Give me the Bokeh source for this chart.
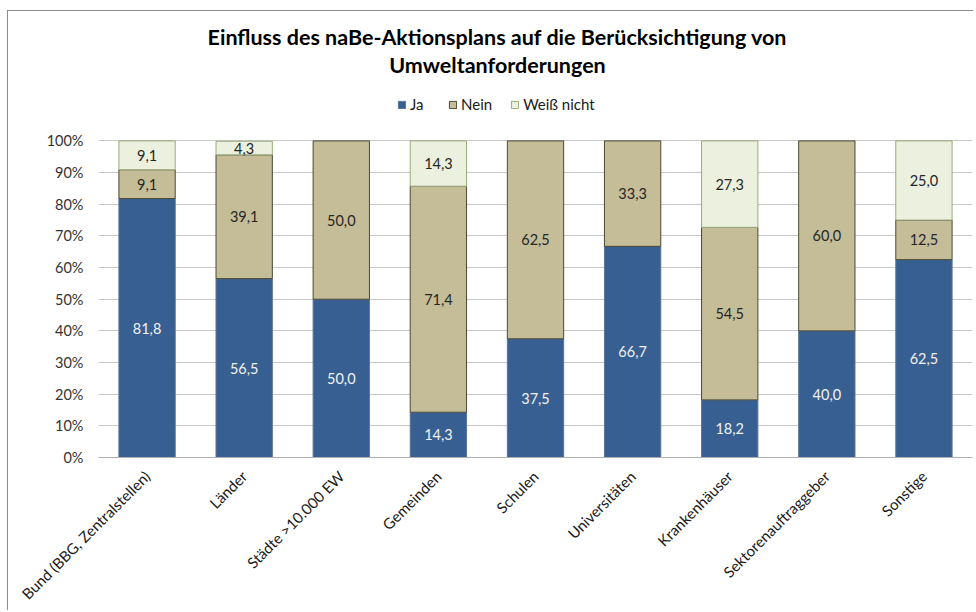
from math import pi
from bokeh.plotting import figure
from bokeh.models import (ColumnDataSource, Label, Legend, LegendItem, FixedTicker,
                          PrintfTickFormatter, Range1d)
from bokeh.core.properties import value
from bokeh.embed import file_html
from bokeh.resources import INLINE

# ---------------- data ----------------
categories = ["Bund (BBG, Zentralstellen)", "Länder", "Städte >10.000 EW", "Gemeinden",
              "Schulen", "Universitäten", "Krankenhäuser", "Sektorenauftraggeber", "Sonstige"]
ja = [81.8, 56.5, 50.0, 14.3, 37.5, 66.7, 18.2, 40.0, 62.5]
nein = [9.1, 39.1, 50.0, 71.4, 62.5, 33.3, 54.5, 60.0, 12.5]
weiss_nicht = [9.1, 4.3, 0.0, 14.3, 0.0, 0.0, 27.3, 0.0, 25.0]
series_names = ["Ja", "Nein", "Weiß nicht"]
y_ticks = [0, 10, 20, 30, 40, 50, 60, 70, 80, 90, 100]
title_lines = ["Einfluss des naBe-Aktionsplans auf die Berücksichtigung von",
               "Umweltanforderungen"]

# ---------------- layout / styles ----------------
FONT = "Lato"
fills = ["#375F91", "#C4BD97", "#EBF1DE"]
edges = ["#5C7597", "#4A4836", "#9AAA7C"]
label_colors = ["#F2F2F2", "#262626", "#262626"]

W, H = 966, 600
FRAME_LEFT, FRAME_RIGHT_PAD, FRAME_BOTTOM_PAD = 90, 2, 152
FRAME_H = H - FRAME_BOTTOM_PAD          # frame spans from canvas top to the axis
PLOT_H = 318                             # pixels between 0% and 100%
y_max = 100.0 * FRAME_H / PLOT_H         # headroom above 100% holds title + legend

p = figure(x_range=categories, y_range=Range1d(0, y_max), width=W, height=H,
           output_backend="svg", toolbar_location=None,
           min_border_left=FRAME_LEFT, min_border_right=FRAME_RIGHT_PAD,
           min_border_top=0, min_border_bottom=FRAME_BOTTOM_PAD)
p.styles = {"border-left": "1px solid #8C8C8C", "border-top": "1px solid #8C8C8C",
            "margin-left": "7px", "margin-top": "10px"}
p.outline_line_color = None
p.background_fill_color = "white"
p.border_fill_color = "white"

all_series = [ja, nein, weiss_nicht]
bottoms = [0.0] * len(categories)
legend_items = []
for name, vals, fc, lc, tc in zip(series_names, all_series, fills, edges, label_colors):
    xs, bot, top, mid, txt = [], [], [], [], []
    for c, b, v in zip(categories, bottoms, vals):
        if v > 0:
            xs.append(c)
            bot.append(b)
            top.append(b + v)
            mid.append(b + v / 2)
            txt.append(f"{v:.1f}".replace(".", ","))
    src = ColumnDataSource(dict(x=xs, bottom=bot, top=top, mid=mid, txt=txt))
    r = p.vbar(x="x", bottom="bottom", top="top", width=0.58, source=src,
               fill_color=fc, line_color=lc, line_width=1)
    p.text(x="x", y="mid", text="txt", source=src, text_align="center",
           text_baseline="middle", text_font=value(FONT), text_font_size="14.5px",
           text_color=tc)
    legend_items.append(LegendItem(label=name, renderers=[r]))
    bottoms = [b + v for b, v in zip(bottoms, vals)]

# grid & axes
p.xgrid.visible = False
p.ygrid.ticker = FixedTicker(ticks=y_ticks)
p.ygrid.grid_line_color = "#C8C8C8"
p.ygrid.grid_line_width = 1

p.yaxis.ticker = FixedTicker(ticks=y_ticks)
p.yaxis.formatter = PrintfTickFormatter(format="%d%%")
p.yaxis.axis_line_color = None
p.yaxis.major_tick_line_color = None
p.yaxis.minor_tick_line_color = None
p.yaxis.major_label_standoff = 9
p.yaxis.major_label_text_font = FONT
p.yaxis.major_label_text_font_size = "14.5px"
p.yaxis.major_label_text_color = "#333333"

p.xaxis.axis_line_color = "#B0B0B0"
p.xaxis.axis_line_width = 1
p.xaxis.major_tick_line_color = None
p.xaxis.minor_tick_line_color = None
p.xaxis.major_label_orientation = pi / 4
p.xaxis.major_label_standoff = 10
p.xaxis.major_label_text_font = FONT
p.xaxis.major_label_text_font_size = "15px"
p.xaxis.major_label_text_color = "#1A1A1A"

# title (two centred lines), in screen px relative to the frame
for i, line in enumerate(title_lines):
    p.add_layout(Label(x=399, y=421 - 28 * i, x_units="screen", y_units="screen",
                       text=line, text_align="center", text_baseline="middle",
                       text_font=FONT, text_font_style="bold", text_font_size="21.5px",
                       text_color="#000000"))

legend = Legend(items=legend_items, orientation="horizontal", location=(299, 344),
                glyph_width=9, glyph_height=9, label_standoff=4, spacing=18,
                padding=0, margin=0, border_line_color=None, background_fill_alpha=0,
                label_text_font=FONT, label_text_font_size="15px",
                label_text_color="#1A1A1A")
p.add_layout(legend, "center")

open("out.html", "w").write(file_html(p, INLINE))
